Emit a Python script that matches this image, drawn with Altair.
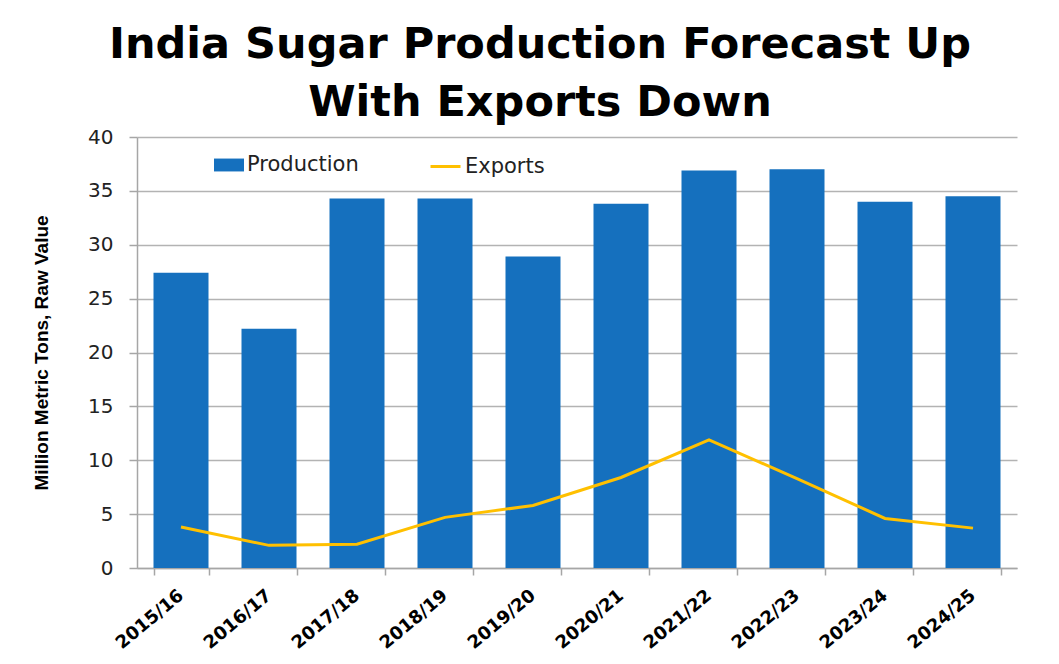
import altair as alt
import pandas as pd

years = ["2015/16", "2016/17", "2017/18", "2018/19", "2019/20",
         "2020/21", "2021/22", "2022/23", "2023/24", "2024/25"]
production = [27.4, 22.2, 34.3, 34.3, 28.9, 33.8, 36.9, 37.0, 34.0, 34.5]
exports = [3.8, 2.1, 2.2, 4.7, 5.8, 8.4, 11.9, 8.3, 4.6, 3.7]

df = pd.DataFrame({"year": years, "production": production, "exports": exports})

FONT = "DejaVu Sans"

x_enc = alt.X("year:N", sort=years, title=None,
              scale=alt.Scale(paddingInner=0.375, paddingOuter=0.1875),
              axis=alt.Axis(labelAngle=-40, labelFontSize=18, labelFontWeight="bold",
                            labelColor="#000000", labelFont=FONT,
                            labelAlign="right", labelBaseline="middle",
                            labelOffset=0,
                            tickBand="extent", tickSize=7, tickColor="#A6A6A6",
                            tickWidth=1.5, domainColor="#A6A6A6", domainWidth=1.5,
                            labelPadding=18, grid=False))

bars = alt.Chart(df).transform_calculate(series="'Production'").mark_bar(color="#1570BE").encode(
    x=x_enc,
    y=alt.Y("production:Q", scale=alt.Scale(domain=[0, 40]),
            title="Million Metric Tons, Raw Value",
            axis=alt.Axis(values=[0, 5, 10, 15, 20, 25, 30, 35, 40],
                          labelFontSize=20, labelColor="#222222", labelFont=FONT,
                          tickSize=8, tickColor="#A6A6A6", tickWidth=1.5,
                          domainColor="#A6A6A6", domainWidth=1.5,
                          gridColor="#B3B3B3", gridWidth=1.5,
                          labelPadding=16,
                          titleFont="Liberation Sans", titleFontSize=19,
                          titleFontWeight="bold", titleColor="#000000",
                          titlePadding=36)),
    color=alt.Color("series:N",
                    scale=alt.Scale(domain=["Production"], range=["#1570BE"]),
                    legend=alt.Legend(title=None, orient="none", legendX=77, legendY=13,
                                      symbolType="M-1,-0.43L1,-0.43L1,0.43L-1,0.43Z",
                                      symbolSize=900, symbolStrokeWidth=0,
                                      labelFontSize=21, labelFont=FONT, labelColor="#222222",
                                      labelOffset=3)),
)

line = alt.Chart(df).transform_calculate(series="'Exports'").mark_line(strokeWidth=3).encode(
    x=alt.X("year:N", sort=years),
    y=alt.Y("exports:Q"),
    stroke=alt.Stroke("series:N",
                      scale=alt.Scale(domain=["Exports"], range=["#FFC000"]),
                      legend=alt.Legend(title=None, orient="none", legendX=292, legendY=13,
                                        symbolType="stroke", symbolSize=900,
                                        symbolStrokeWidth=3,
                                        labelFontSize=21, labelFont=FONT, labelColor="#222222",
                                        labelOffset=3)),
)

chart = alt.layer(bars, line).properties(
    width=880, height=431,
    padding={"left": 24, "top": 16, "right": 10, "bottom": 0},
    title=alt.TitleParams(["India Sugar Production Forecast Up", "With Exports Down"],
                          font=FONT, fontSize=43, fontWeight="bold", color="#000000",
                          lineHeight=58, offset=2, anchor="middle", dx=-37),
).configure_view(stroke=None).configure_legend(symbolLimit=0)

chart.save("out.html", embed_options={"renderer": "svg", "actions": False})
